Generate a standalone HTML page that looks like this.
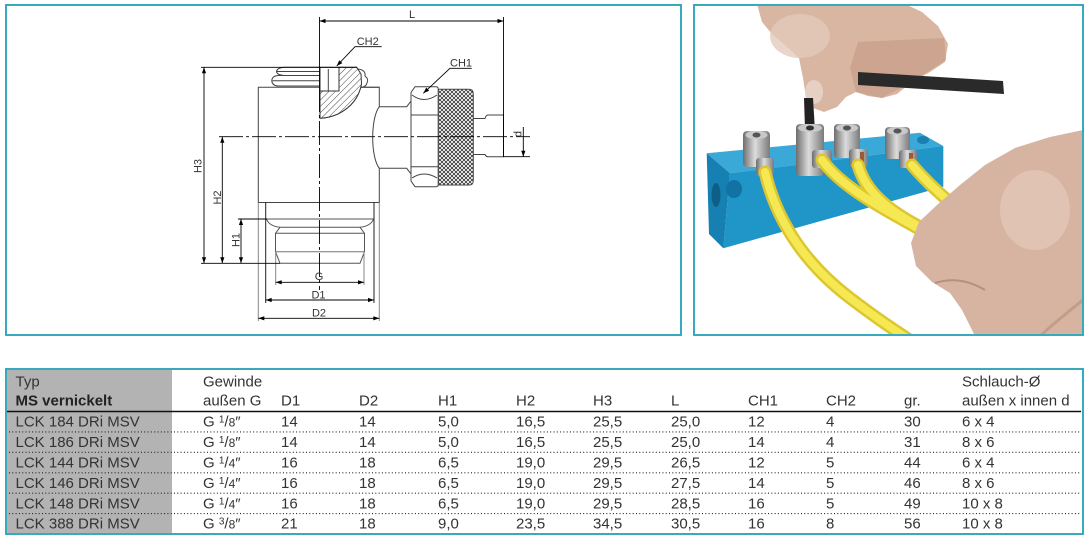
<!DOCTYPE html>
<html>
<head>
<meta charset="utf-8">
<style>
  html,body{margin:0;padding:0;background:#fff;}
  body{width:1090px;height:541px;overflow:hidden;position:relative;}
  svg{position:absolute;left:0;top:0;}
  .t{font-family:"Liberation Sans",Arial,sans-serif;font-size:15px;fill:#333;}
  .lb{font-family:"Liberation Sans",Arial,sans-serif;font-size:11px;fill:#333;}
</style>
</head>
<body>
<svg width="1090" height="541" viewBox="0 0 1090 541" xmlns="http://www.w3.org/2000/svg">
  <defs>
    <marker id="ar" viewBox="0 0 10 10" refX="10" refY="5" markerWidth="7" markerHeight="6" markerUnits="userSpaceOnUse" orient="auto-start-reverse">
      <path d="M0,1.5 L10,5 L0,8.5 z" fill="#000"/>
    </marker>
    <pattern id="hatch" width="4.5" height="4.5" patternUnits="userSpaceOnUse" patternTransform="rotate(45)">
      <rect width="4.5" height="4.5" fill="#fff"/>
      <line x1="0" y1="0" x2="0" y2="4.5" stroke="#333" stroke-width="0.9"/>
    </pattern>
    <pattern id="knurl" width="4" height="4" patternUnits="userSpaceOnUse">
      <rect width="4" height="4" fill="#fff"/>
      <path d="M0,0 L4,4 M4,0 L0,4" stroke="#222" stroke-width="0.75"/>
    </pattern>
    <linearGradient id="silver" x1="0" x2="1" y1="0" y2="0">
      <stop offset="0" stop-color="#6d6d6d"/>
      <stop offset="0.45" stop-color="#dcdcdc"/>
      <stop offset="1" stop-color="#7a7a7a"/>
    </linearGradient>
    <clipPath id="pc"><rect x="695" y="6" width="387" height="328"/></clipPath>
  </defs>

  <!-- ===== PHOTO (approximation) ===== -->
  <g clip-path="url(#pc)">
    <rect x="695" y="6" width="387" height="328" fill="#fff"/>
    <!-- top hand -->
    <path d="M757,4 L762,22 L772,34 L787,47 L799,58 L803,78 L806,98 L813,108 L824,112 L837,107 L846,97 L856,92 L868,96 L882,98 L897,94 L912,82 L930,72 L945,62 L948,44 L938,26 L922,12 L905,4 Z" fill="#d8b6a2"/>
    <path d="M858,42 L944,38 L946,60 L912,82 L882,98 L856,92 L850,68 Z" fill="#c9a08c" opacity="0.8"/>
    <ellipse cx="800" cy="36" rx="30" ry="22" fill="#e4cbbb" opacity="0.8"/>
    <ellipse cx="814" cy="92" rx="9" ry="12" fill="#e6d0c4"/>
    <!-- hex key -->
    <polygon points="858,72 1003,81 1004,94 858,85" fill="#2a2a2a"/>
    <polygon points="804,98 813,98 815,131 805,129" fill="#222"/>
    <!-- blue block -->
    <polygon points="706.7,153.3 920,132.7 943.3,146 730,173.3" fill="#3aa9d8"/>
    <polygon points="730,173.3 943.3,146 943.3,186.7 723.3,248.3" fill="#1f95c8"/>
    <polygon points="706.7,153.3 730,173.3 723.3,248.3 709,234" fill="#1780b3"/>
    <ellipse cx="716" cy="195" rx="4.5" ry="12" fill="#0d5f88"/>
    <ellipse cx="734" cy="189" rx="8" ry="9" fill="#1272a4"/>
    <ellipse cx="923" cy="140" rx="6" ry="4" fill="#1a80b2"/>
    <!-- fittings -->
    <rect x="743" y="131" width="27" height="36" rx="4" fill="url(#silver)"/>
    <rect x="796" y="124" width="28" height="52" rx="4" fill="url(#silver)"/>
    <rect x="834" y="124" width="26" height="34" rx="4" fill="url(#silver)"/>
    <rect x="885" y="127" width="25" height="32" rx="4" fill="url(#silver)"/>
    <ellipse cx="756.5" cy="135" rx="11" ry="4" fill="#c9c9c9"/><ellipse cx="756.5" cy="135" rx="4" ry="2.5" fill="#555"/>
    <ellipse cx="810" cy="128" rx="12" ry="4" fill="#c9c9c9"/><ellipse cx="810" cy="128" rx="4" ry="2.5" fill="#333"/>
    <ellipse cx="847" cy="128" rx="11" ry="4" fill="#c9c9c9"/><ellipse cx="847" cy="128" rx="4" ry="2.5" fill="#555"/>
    <ellipse cx="897.5" cy="131" rx="10.5" ry="4" fill="#c9c9c9"/><ellipse cx="897.5" cy="131" rx="4" ry="2.5" fill="#555"/>
    <rect x="756" y="158" width="18" height="18" rx="3" fill="url(#silver)"/>
    <rect x="812" y="150" width="20" height="18" rx="3" fill="url(#silver)"/>
    <rect x="849" y="149" width="19" height="18" rx="3" fill="url(#silver)"/>
    <rect x="899" y="150" width="18" height="18" rx="3" fill="url(#silver)"/>
    <rect x="860" y="152" width="4" height="12" fill="#9a5a3a"/>
    <rect x="909" y="153" width="4" height="12" fill="#9a5a3a"/>
    <!-- tubes -->
    <g fill="none" stroke-linecap="round">
      <path d="M765,172 C775,215 800,260 850,298 S905,335 915,345" stroke="#dcc632" stroke-width="13"/>
      <path d="M822,160 C840,185 875,205 930,235" stroke="#dcc632" stroke-width="13"/>
      <path d="M858,165 C865,190 885,210 930,232" stroke="#dcc632" stroke-width="13"/>
      <path d="M912,165 C925,180 940,195 960,210" stroke="#dcc632" stroke-width="13"/>
      <path d="M765,172 C775,215 800,260 850,298 S905,335 915,345" stroke="#f6e852" stroke-width="8"/>
      <path d="M822,160 C840,185 875,205 930,235" stroke="#f6e852" stroke-width="8"/>
      <path d="M858,165 C865,190 885,210 930,232" stroke="#f6e852" stroke-width="8"/>
      <path d="M912,165 C925,180 940,195 960,210" stroke="#f6e852" stroke-width="8"/>
    </g>
    <!-- bottom hand -->
    <path d="M1083,130 L1050,137 L1015,148 L985,165 L960,185 L937,205 L919,222 L911,243 L916,266 L932,282 L950,293 L962,310 L975,336 L1083,336 Z" fill="#d6b4a1"/>
    <ellipse cx="1035" cy="210" rx="35" ry="40" fill="#e2c7b7" opacity="0.8"/>
    <path d="M935,283 Q960,275 985,290" stroke="#b78f7c" stroke-width="2" fill="none"/>
    <path d="M1083,300 Q1060,318 1040,336" stroke="#c49c88" stroke-width="3" fill="none"/>
  </g>

  <!-- ===== PANEL BORDERS ===== -->
  <g fill="none" stroke="#22a0b6" stroke-width="1.8">
    <rect x="6" y="5" width="675" height="330"/>
    <rect x="694" y="5" width="389" height="330"/>
  </g>

  <!-- ===== TECHNICAL DRAWING ===== -->
  <!-- body -->
  <path d="M379.3,106.7 V87.3 H258.3 V202.5 H379.3 V168.3" fill="#fff" stroke="#444" stroke-width="1"/>
  <!-- upper left nut -->
  <g fill="none" stroke="#444" stroke-width="1">
    <path d="M319.5,67.3 L284,67.3 Q277,68 276.5,71.5 Q277,75 284,75.5 L319.5,75.5"/>
    <path d="M319.5,75.5 L278,75.5 Q272,76 271.8,80.7 Q272,85.5 278,86 L319.5,86"/>
    <line x1="277" y1="71.5" x2="319.5" y2="71.5"/>
    <line x1="272.5" y1="80.7" x2="319.5" y2="80.7"/>
  </g>
  <!-- right hatched section -->
  <path d="M339,67.3 L356.7,67.3 L361,74 L361.5,84 Q358,104 338,114 Q329,118 320,118.3 L320,91 L339,91 Z" fill="url(#hatch)" stroke="#333" stroke-width="1"/>
  <rect x="320" y="67.3" width="19" height="23.7" fill="#fff" stroke="#333" stroke-width="1"/>
  <line x1="328.3" y1="69" x2="328.3" y2="91" stroke="#444" stroke-width="1"/>
  <path d="M358,69 Q366,70 365,76 Q369,79 367,83 Q366,87 361,87.3" fill="none" stroke="#444" stroke-width="1"/>
  <line x1="361" y1="87.3" x2="379.3" y2="87.3" stroke="#444" stroke-width="1"/>

  <!-- side port -->
  <g fill="none" stroke="#444" stroke-width="1">
    <path d="M379.3,106.7 C370.5,118 370.5,157 379.3,168.3"/>
    <path d="M379.3,106.7 H406.7 L411,101"/>
    <path d="M379.3,168.3 H406.7 L411,174"/>
    <path d="M415,86.7 H436 Q438.3,86.7 438.3,89 V184.5 Q438.3,186.7 436,186.7 H415 L411,181 V92.5 Z" fill="#fff"/>
    <line x1="411" y1="115" x2="438.3" y2="115"/>
    <line x1="411" y1="166.7" x2="438.3" y2="166.7"/>
    <path d="M412,95 Q424,104 437,95"/>
    <path d="M412,178 Q424,170 437,178"/>
    <path d="M438.3,89.3 H469 Q473.3,89.3 473.3,94 V180.5 Q473.3,185 469,185 H438.3 Z" fill="url(#knurl)"/>
    <path d="M473.3,118.5 H485 Q486,115 488,115 H503.5 V156.7 H488 Q486,156.7 485,154.5 H473.3"/>
  </g>

  <!-- lower thread -->
  <g fill="none" stroke-width="1">
    <line x1="258.3" y1="202.5" x2="258.3" y2="321" stroke="#888"/>
    <line x1="379.3" y1="202.5" x2="379.3" y2="321" stroke="#888"/>
    <line x1="265.7" y1="202.5" x2="265.7" y2="303" stroke="#222"/>
    <line x1="374" y1="202.5" x2="374" y2="303" stroke="#222"/>
    <path d="M266,219 H373.5" stroke="#555"/>
    <path d="M266.5,219 Q269,226 280,227.3 H360 Q371,226 373.5,219" stroke="#555"/>
    <path d="M280,227.3 L275.5,233.3 V251.7 L280,263.3 H360 L364.5,251.7 V233.3 L360,227.3" stroke="#555"/>
    <line x1="275.5" y1="233.3" x2="364.5" y2="233.3" stroke="#555"/>
    <line x1="275.5" y1="251.7" x2="364.5" y2="251.7" stroke="#777"/>
    <line x1="275.7" y1="252" x2="275.7" y2="285" stroke="#888"/>
    <line x1="364" y1="252" x2="364" y2="285" stroke="#888"/>
  </g>

  <!-- dimension lines -->
  <g fill="none" stroke="#000" stroke-width="0.9">
    <line x1="319.5" y1="21" x2="503.5" y2="21" marker-start="url(#ar)" marker-end="url(#ar)"/>
    <line x1="319.5" y1="17" x2="319.5" y2="88"/>
    <line x1="319.5" y1="88" x2="319.5" y2="290" stroke-dasharray="24 3 3 3"/>
    <line x1="503.5" y1="17" x2="503.5" y2="157"/>
    <line x1="219" y1="136.7" x2="530" y2="136.7" stroke-dasharray="24 3 3 3"/>
    <!-- H3 -->
    <line x1="201" y1="67.3" x2="357" y2="67.3"/>
    <line x1="201" y1="263.3" x2="280" y2="263.3"/>
    <line x1="204" y1="67.3" x2="204" y2="263.3" marker-start="url(#ar)" marker-end="url(#ar)"/>
    <!-- H2 -->
    <line x1="222.3" y1="136.7" x2="222.3" y2="263.3" marker-start="url(#ar)" marker-end="url(#ar)"/>
    <!-- H1 -->
    <line x1="238" y1="219" x2="267" y2="219"/>
    <line x1="241" y1="219" x2="241" y2="263.3" marker-start="url(#ar)" marker-end="url(#ar)"/>
    <!-- G, D1, D2 -->
    <line x1="275.7" y1="282.3" x2="364" y2="282.3" marker-start="url(#ar)" marker-end="url(#ar)"/>
    <line x1="265.7" y1="300" x2="374" y2="300" marker-start="url(#ar)" marker-end="url(#ar)"/>
    <line x1="258.3" y1="318.3" x2="379.3" y2="318.3" marker-start="url(#ar)" marker-end="url(#ar)"/>
    <!-- d -->
    <line x1="503.5" y1="156.7" x2="530" y2="156.7"/>
    <line x1="523.3" y1="127" x2="523.3" y2="156.7" marker-end="url(#ar)"/>
    <!-- leaders -->
    <polyline points="423.3,93.3 450,68.3 471.7,68.3" marker-start="url(#ar)"/>
    <polyline points="336.7,66 355,46.7 381.7,46.7" marker-start="url(#ar)"/>
  </g>

  <!-- drawing labels -->
  <text class="lb" x="412" y="18" text-anchor="middle">L</text>
  <text class="lb" x="356.7" y="45">CH2</text>
  <text class="lb" x="450" y="66.5">CH1</text>
  <text class="lb" transform="translate(201.5,166) rotate(-90)" text-anchor="middle">H3</text>
  <text class="lb" transform="translate(221,197.5) rotate(-90)" text-anchor="middle">H2</text>
  <text class="lb" transform="translate(239.5,240) rotate(-90)" text-anchor="middle">H1</text>
  <text class="lb" transform="translate(521.5,134) rotate(-90)" text-anchor="middle">d</text>
  <text class="lb" x="319" y="280" text-anchor="middle">G</text>
  <text class="lb" x="318.5" y="298.3" text-anchor="middle">D1</text>
  <text class="lb" x="319" y="316.7" text-anchor="middle">D2</text>

  <!-- ===== TABLE ===== -->
  <rect x="7" y="370" width="165" height="163" fill="#b3b3b3"/>
  <rect x="6" y="369" width="1077" height="165" fill="none" stroke="#22a0b6" stroke-width="1.8"/>
  <line x1="7" y1="411.5" x2="1081" y2="411.5" stroke="#111" stroke-width="1.4"/>
  <g stroke="#222" stroke-width="1.1" stroke-dasharray="1 2.3">
    <line x1="9" y1="431.9" x2="1080" y2="431.9"/>
    <line x1="9" y1="452.3" x2="1080" y2="452.3"/>
    <line x1="9" y1="472.8" x2="1080" y2="472.8"/>
    <line x1="9" y1="493.2" x2="1080" y2="493.2"/>
    <line x1="9" y1="513.6" x2="1080" y2="513.6"/>
  </g>

  <!-- header -->
  <text class="t" x="15.5" y="386.3">Typ</text>
  <text class="t" x="15.5" y="405.3" font-weight="bold" style="fill:#222">MS vernickelt</text>
  <text class="t" x="203" y="386.3">Gewinde</text>
  <text class="t" x="203" y="405.3">außen G</text>
  <text class="t" x="281" y="405.3">D1</text>
  <text class="t" x="359" y="405.3">D2</text>
  <text class="t" x="438" y="405.3">H1</text>
  <text class="t" x="516" y="405.3">H2</text>
  <text class="t" x="593" y="405.3">H3</text>
  <text class="t" x="671" y="405.3">L</text>
  <text class="t" x="748" y="405.3">CH1</text>
  <text class="t" x="826" y="405.3">CH2</text>
  <text class="t" x="904" y="405.3">gr.</text>
  <text class="t" x="962" y="386.3">Schlauch-Ø</text>
  <text class="t" x="962" y="405.3">außen x innen d</text>

  <!-- rows -->
  <g class="t">
    <text class="t" x="15.5" y="426.6">LCK 184 DRi MSV</text>
    <text class="t" x="203" y="426.6">G <tspan font-size="10" dy="-4">1</tspan><tspan dy="4">/</tspan><tspan font-size="12">8</tspan>″</text>
    <text class="t" x="281" y="426.6">14</text><text class="t" x="359" y="426.6">14</text>
    <text class="t" x="438" y="426.6">5,0</text><text class="t" x="516" y="426.6">16,5</text>
    <text class="t" x="593" y="426.6">25,5</text><text class="t" x="671" y="426.6">25,0</text>
    <text class="t" x="748" y="426.6">12</text><text class="t" x="826" y="426.6">4</text>
    <text class="t" x="904" y="426.6">30</text><text class="t" x="962" y="426.6">6 x 4</text>

    <text class="t" x="15.5" y="447">LCK 186 DRi MSV</text>
    <text class="t" x="203" y="447">G <tspan font-size="10" dy="-4">1</tspan><tspan dy="4">/</tspan><tspan font-size="12">8</tspan>″</text>
    <text class="t" x="281" y="447">14</text><text class="t" x="359" y="447">14</text>
    <text class="t" x="438" y="447">5,0</text><text class="t" x="516" y="447">16,5</text>
    <text class="t" x="593" y="447">25,5</text><text class="t" x="671" y="447">25,0</text>
    <text class="t" x="748" y="447">14</text><text class="t" x="826" y="447">4</text>
    <text class="t" x="904" y="447">31</text><text class="t" x="962" y="447">8 x 6</text>

    <text class="t" x="15.5" y="467.5">LCK 144 DRi MSV</text>
    <text class="t" x="203" y="467.5">G <tspan font-size="10" dy="-4">1</tspan><tspan dy="4">/</tspan><tspan font-size="12">4</tspan>″</text>
    <text class="t" x="281" y="467.5">16</text><text class="t" x="359" y="467.5">18</text>
    <text class="t" x="438" y="467.5">6,5</text><text class="t" x="516" y="467.5">19,0</text>
    <text class="t" x="593" y="467.5">29,5</text><text class="t" x="671" y="467.5">26,5</text>
    <text class="t" x="748" y="467.5">12</text><text class="t" x="826" y="467.5">5</text>
    <text class="t" x="904" y="467.5">44</text><text class="t" x="962" y="467.5">6 x 4</text>

    <text class="t" x="15.5" y="487.9">LCK 146 DRi MSV</text>
    <text class="t" x="203" y="487.9">G <tspan font-size="10" dy="-4">1</tspan><tspan dy="4">/</tspan><tspan font-size="12">4</tspan>″</text>
    <text class="t" x="281" y="487.9">16</text><text class="t" x="359" y="487.9">18</text>
    <text class="t" x="438" y="487.9">6,5</text><text class="t" x="516" y="487.9">19,0</text>
    <text class="t" x="593" y="487.9">29,5</text><text class="t" x="671" y="487.9">27,5</text>
    <text class="t" x="748" y="487.9">14</text><text class="t" x="826" y="487.9">5</text>
    <text class="t" x="904" y="487.9">46</text><text class="t" x="962" y="487.9">8 x 6</text>

    <text class="t" x="15.5" y="508.3">LCK 148 DRi MSV</text>
    <text class="t" x="203" y="508.3">G <tspan font-size="10" dy="-4">1</tspan><tspan dy="4">/</tspan><tspan font-size="12">4</tspan>″</text>
    <text class="t" x="281" y="508.3">16</text><text class="t" x="359" y="508.3">18</text>
    <text class="t" x="438" y="508.3">6,5</text><text class="t" x="516" y="508.3">19,0</text>
    <text class="t" x="593" y="508.3">29,5</text><text class="t" x="671" y="508.3">28,5</text>
    <text class="t" x="748" y="508.3">16</text><text class="t" x="826" y="508.3">5</text>
    <text class="t" x="904" y="508.3">49</text><text class="t" x="962" y="508.3">10 x 8</text>

    <text class="t" x="15.5" y="528.7">LCK 388 DRi MSV</text>
    <text class="t" x="203" y="528.7">G <tspan font-size="10" dy="-4">3</tspan><tspan dy="4">/</tspan><tspan font-size="12">8</tspan>″</text>
    <text class="t" x="281" y="528.7">21</text><text class="t" x="359" y="528.7">18</text>
    <text class="t" x="438" y="528.7">9,0</text><text class="t" x="516" y="528.7">23,5</text>
    <text class="t" x="593" y="528.7">34,5</text><text class="t" x="671" y="528.7">30,5</text>
    <text class="t" x="748" y="528.7">16</text><text class="t" x="826" y="528.7">8</text>
    <text class="t" x="904" y="528.7">56</text><text class="t" x="962" y="528.7">10 x 8</text>
  </g>
</svg>
</body>
</html>
